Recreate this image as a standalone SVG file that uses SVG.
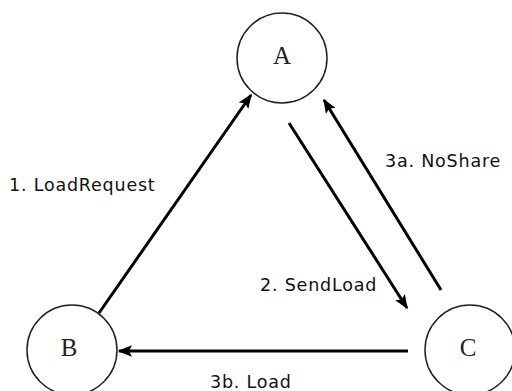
<svg xmlns="http://www.w3.org/2000/svg" width="512" height="391" viewBox="0 0 512 391">
<style>
.node{fill:#fff;stroke:#222;stroke-width:1.5}
.nl{font-family:"Liberation Serif",serif;font-size:25px;fill:#222;text-anchor:middle}
.el{font-family:"DejaVu Sans",sans-serif;font-size:17.5px;fill:#111;letter-spacing:0.8px}
.conn{stroke:#000;stroke-width:3;fill:none;marker-end:url(#ah)}
</style>
<defs>
<marker id="ah" viewBox="0 0 10 10" refX="9" refY="5" markerWidth="4.8" markerHeight="3.8" orient="auto" markerUnits="strokeWidth" preserveAspectRatio="none">
<path d="M0,0 L10,5 L0,10 L2,5 z" fill="#000"/>
</marker>
</defs>
<rect width="512" height="391" fill="#fff"/>
<g id="nodeA"><circle class="node" cx="282" cy="58" r="45"/><text class="nl" x="282" y="64">A</text></g>
<g id="nodeB"><circle class="node" cx="72" cy="350" r="45"/><text class="nl" x="69" y="356">B</text></g>
<g id="nodeC"><circle class="node" cx="470" cy="350" r="45"/><text class="nl" x="468" y="356">C</text></g>
<g id="connectors">
<line class="conn" x1="99" y1="313" x2="251" y2="95"/>
<line class="conn" x1="289" y1="123" x2="407" y2="308"/>
<line class="conn" x1="441" y1="290" x2="324" y2="100"/>
<line class="conn" x1="408" y1="351" x2="119" y2="351"/>
</g>
<g id="labels">
<text class="el" x="9" y="191">1. LoadRequest</text>
<text class="el" x="385" y="167">3a. NoShare</text>
<text class="el" x="260" y="291">2. SendLoad</text>
<text class="el" x="210" y="388">3b. Load</text>
</g>
</svg>
